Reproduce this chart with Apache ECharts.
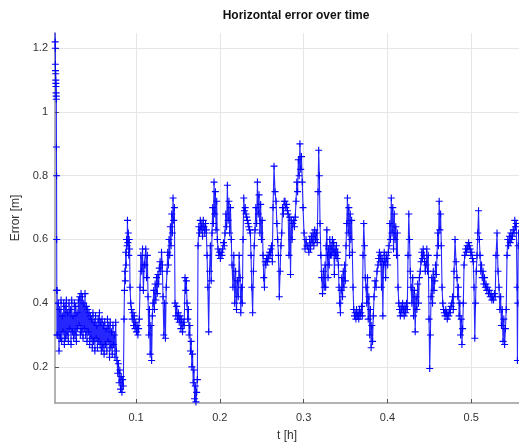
<!DOCTYPE html>
<html><head><meta charset="utf-8">
<script src="https://cdn.jsdelivr.net/npm/echarts@6/dist/echarts.min.js"></script>
<style>html,body{margin:0;padding:0;background:#fff}#c{width:519px;height:448px}</style>
</head><body><div id="c"></div>
<script>
const titleText = 'Horizontal error over time';
const xName = 't [h]';
const yName = 'Error [m]';
const xTicks = [0.1, 0.2, 0.3, 0.4, 0.5];
const yTicks = [0.2, 0.4, 0.6, 0.8, 1.0, 1.2];
const tEnd = 0.557;

// start time (h) of each run of readings
const runStart = [0.00334,0.00573,0.01527,0.03198,0.04391,0.05943,0.07733,0.08568,0.09284,0.10477,
  0.11074,0.11432,0.12029,0.12864,0.13222,0.13699,0.14654,0.15847,0.16086,0.17399,
  0.18473,0.19069,0.19785,0.20621,0.21456,0.22411,0.22768,0.23723,0.24200,0.25155,
  0.26348,0.26706,0.27780,0.29093,0.29928,0.30525,0.31718,0.31957,0.32554,0.33270,
  0.34224,0.35060,0.35895,0.37088,0.37446,0.38401,0.38878,0.40191,0.41265,0.42458,
  0.42816,0.44010,0.44606,0.44964,0.45203,0.45919,0.46516,0.47948,0.48305,0.49141,
  0.50334,0.50692,0.51766,0.52959,0.53317,0.54272,0.55107,0.55465];

// error readings (m), early part
const errEarly = [
  [1.25,1.22,1.20,1.15,1.13,1.12,1.10,1.09,1.08,1.06,1.05,1.04,0.89,0.80,0.60,0.44,0.30],
  [0.44,0.30,0.40,0.25,0.38,0.29,0.41,0.28,0.36,0.31,0.40,0.27],
  [0.39,0.29,0.41,0.30,0.37,0.28,0.40,0.32,0.38,0.27,0.41,0.31,0.36,0.29,0.40,0.30,0.39,0.28,0.37,0.32,0.41],
  [0.33,0.42,0.30,0.43,0.31,0.42,0.29,0.40,0.32,0.43,0.30,0.39,0.28,0.38,0.31],
  [0.37,0.27,0.36,0.29,0.35,0.26,0.37,0.28,0.34,0.25,0.36,0.29,0.33,0.26,0.35,0.28,0.37,0.27,0.34,0.25],
  [0.35,0.26,0.33,0.24,0.34,0.27,0.32,0.25,0.35,0.28,0.33,0.23,0.34,0.26,0.31,0.24,0.33,0.27,0.30,0.23,0.34,0.25],
  [0.22,0.18,0.21,0.15,0.19,0.13,0.17,0.12,0.16,0.14],
  [0.35,0.44,0.50,0.47,0.56,0.52,0.60,0.58,0.66,0.59,0.62,0.55,0.60,0.57],
  [0.45,0.40,0.38,0.35,0.37,0.33,0.36,0.32,0.34,0.31,0.33,0.30,0.32,0.35],
  [0.45,0.55,0.50,0.57,0.44,0.52],
  [0.52,0.57,0.48,0.55],
  [0.42,0.30,0.38,0.24,0.33,0.22,0.36],
  [0.40,0.44,0.38,0.46,0.41,0.48,0.43,0.49,0.46,0.51],
  [0.53,0.50,0.56,0.52],
  [0.42,0.30,0.40,0.29,0.45],
  [0.50,0.56,0.52,0.60,0.55,0.64,0.58,0.68,0.62,0.73,0.66,0.70],
  [0.40,0.36,0.39,0.35,0.37,0.34,0.36,0.32,0.35,0.31,0.34,0.33],
  [0.48,0.44,0.47],
  [0.40,0.35,0.38,0.30,0.33,0.25,0.28,0.20,0.24,0.15,0.19,0.10,0.14,0.09,0.12,0.16]
];
// error readings (m), middle part
const errMiddle = [
  [0.58,0.64,0.62,0.66,0.63,0.65,0.61,0.66,0.64,0.62,0.65,0.63],
  [0.55,0.45,0.31,0.50,0.58,0.47],
  [0.62,0.70,0.65,0.78,0.68,0.75,0.63,0.72,0.60],
  [0.57,0.55,0.56,0.54,0.56,0.55,0.57,0.59,0.58],
  [0.62,0.68,0.64,0.77,0.66,0.72,0.62,0.70,0.60],
  [0.52,0.45,0.55,0.40,0.50,0.38,0.47,0.42,0.55],
  [0.48,0.37,0.45,0.40],
  [0.60,0.73,0.69,0.70,0.68,0.67,0.66,0.65,0.64,0.63,0.62],
  [0.55,0.45,0.37,0.50,0.58],
  [0.63,0.70,0.65,0.78,0.68,0.74,0.62,0.71,0.60,0.66],
  [0.55,0.48,0.45,0.53,0.52,0.54,0.53,0.55,0.54,0.56,0.55,0.57,0.58,0.53],
  [0.70,0.83,0.75],
  [0.72,0.65,0.60,0.55,0.42,0.50,0.58,0.62,0.70,0.68,0.72],
  [0.72,0.70,0.71,0.69,0.68,0.55,0.67,0.49,0.66,0.60,0.65,0.66,0.64,0.67],
  [0.72,0.78,0.75,0.85,0.80,0.90,0.82,0.86,0.78],
  [0.70,0.62,0.57,0.60,0.58],
  [0.58,0.56,0.60,0.57,0.61,0.59,0.62,0.58,0.63,0.60,0.62,0.59],
  [0.75,0.88,0.80],
  [0.65,0.55,0.48,0.43,0.50,0.45],
  [0.52,0.45,0.58,0.63,0.55,0.48,0.57,0.52,0.60,0.55]
];
// error readings (m), late part
const errLate = [
  [0.58,0.55,0.60,0.56,0.59,0.49,0.57,0.55,0.58,0.54,0.56,0.52],
  [0.45,0.40,0.37,0.44,0.48,0.42,0.50,0.45,0.52,0.47],
  [0.58,0.65,0.73,0.62,0.70,0.55,0.68,0.60,0.66,0.56],
  [0.45,0.38,0.36,0.37,0.35,0.38,0.36,0.37,0.35,0.38,0.36,0.37,0.39,0.36],
  [0.55,0.65,0.58,0.48],
  [0.45,0.40,0.48,0.35,0.42,0.30,0.38,0.26,0.33,0.28,0.36],
  [0.42,0.47,0.45,0.50],
  [0.52,0.54,0.56,0.53,0.55,0.45,0.54,0.36,0.52,0.56,0.53,0.48,0.55,0.54,0.52,0.56],
  [0.58,0.65,0.60,0.73,0.62,0.70,0.57,0.68,0.60,0.64,0.55,0.62],
  [0.45,0.40,0.38,0.36,0.39,0.37,0.40,0.38,0.36,0.39,0.37,0.40,0.38],
  [0.55,0.68,0.60,0.50],
  [0.45,0.40,0.48,0.36,0.44,0.31,0.42,0.38,0.46,0.40,0.48,0.50],
  [0.53,0.56,0.54,0.57,0.55,0.53,0.50],
  [0.52,0.57,0.50,0.55],
  [0.35,0.195,0.30],
  [0.42,0.48,0.40,0.50,0.44,0.47,0.52,0.49],
  [0.55,0.62,0.58,0.72,0.63,0.68,0.58],
  [0.45,0.40,0.38,0.37,0.36,0.38,0.37,0.35,0.37,0.36,0.38,0.37,0.39,0.40,0.42,0.38],
  [0.50,0.60,0.53],
  [0.48,0.42,0.45,0.36,0.40,0.30,0.35,0.27,0.32,0.40],
  [0.52,0.55,0.57,0.56,0.58,0.57,0.59,0.58,0.57,0.55,0.56,0.54,0.53],
  [0.45,0.29,0.40,0.50],
  [0.55,0.62,0.69,0.60,0.55,0.50,0.52,0.48,0.50,0.46,0.48,0.45],
  [0.46,0.44,0.45,0.43,0.44,0.42,0.43,0.41,0.42,0.41,0.43,0.42],
  [0.55,0.62,0.50],
  [0.45,0.38,0.42,0.33,0.38,0.28,0.35,0.27,0.32,0.38],
  [0.55,0.60,0.58,0.61,0.59,0.62,0.60,0.61,0.63],
  [0.62,0.66,0.64,0.65],
  [0.45,0.22,0.40,0.58,0.62]
];

const runs = errEarly.concat(errMiddle, errLate);
const data = [];
for (let i = 0; i < runStart.length; i++) {
  const s = runStart[i];
  const e = i + 1 < runStart.length ? runStart[i + 1] : tEnd;
  const v = runs[i];
  for (let j = 0; j < v.length; j++) data.push([s + (e - s) * j / v.length, v[j]]);
}

const fmt = v => String(Math.round(v * 100) / 100);
const font = 'Liberation Sans, Arial, Helvetica, sans-serif';
const axisGray = '#9a9a9a';
const chart = echarts.init(document.getElementById('c'), null, {renderer: 'canvas'});
chart.setOption({
  animation: false,
  backgroundColor: '#fff',
  title: {
    text: titleText, left: 291, top: 5, textAlign: 'center',
    textStyle: {fontFamily: font, fontSize: 12, fontWeight: 'bold', color: '#111'}
  },
  grid: {left: 55, right: 0, top: 33, bottom: 45, containLabel: false},
  xAxis: {
    type: 'value', min: 0.0033, max: tEnd,
    name: xName, nameLocation: 'middle', nameGap: 27,
    nameTextStyle: {fontFamily: font, fontSize: 12, color: '#333'},
    axisLine: {show: true, onZero: false, lineStyle: {color: axisGray, width: 1.5}},
    axisTick: {show: true, inside: true, length: 4, customValues: xTicks, lineStyle: {color: '#555'}},
    axisLabel: {customValues: xTicks, formatter: fmt, margin: 9, fontFamily: font, fontSize: 11, color: '#333'},
    splitLine: {show: true, lineStyle: {color: '#e6e6e6', width: 1}}
  },
  yAxis: {
    type: 'value', min: 0.0866, max: 1.248,
    name: yName, nameLocation: 'middle', nameGap: 29,
    nameTextStyle: {fontFamily: font, fontSize: 12, color: '#333'},
    axisLine: {show: true, onZero: false, lineStyle: {color: axisGray, width: 1.5}},
    axisTick: {show: true, inside: true, length: 4, customValues: yTicks, lineStyle: {color: '#555'}},
    axisLabel: {customValues: yTicks, formatter: fmt, margin: 7, fontFamily: font, fontSize: 11, color: '#333'},
    splitLine: {show: true, lineStyle: {color: '#e6e6e6', width: 1}}
  },
  series: [{
    type: 'line', data: data, clip: true,
    symbol: 'path://M0,5L10,5M5,0L5,10', symbolSize: 7, showSymbol: true,
    itemStyle: {color: 'rgba(0,0,255,0)', borderColor: '#0000ff', borderWidth: 1.1},
    lineStyle: {color: 'rgba(0,0,255,0.85)', width: 1.1},
    emphasis: {disabled: true}
  }]
});
</script></body></html>
